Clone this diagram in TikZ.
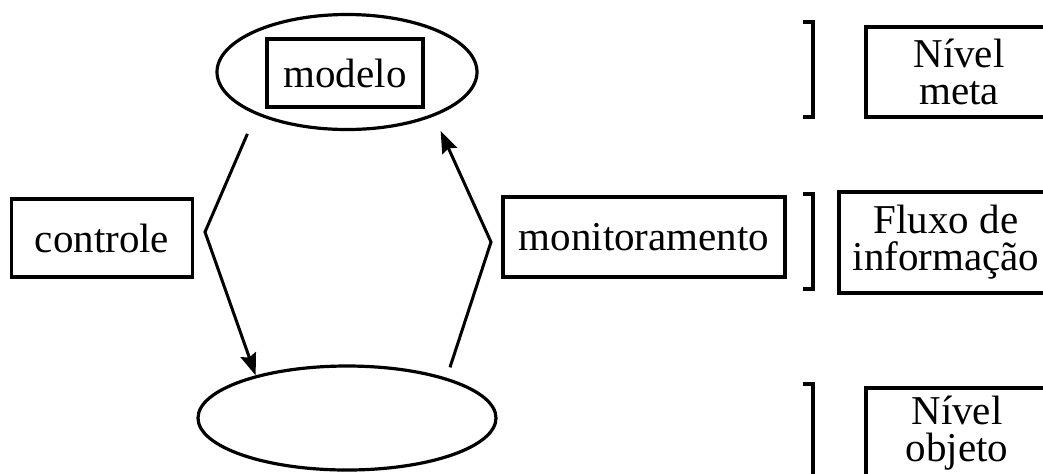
\documentclass[tikz,border=0pt]{standalone}
\usepackage{fontspec}
\setmainfont{Liberation Serif}
\usetikzlibrary{shapes.geometric,arrows.meta}

\tikzstyle{b1} = [draw, rectangle, line width=1.6pt, inner sep=0pt, align=center,
  font=\fontsize{20.5}{18.5}\selectfont]
\tikzstyle{e1} = [draw, ellipse, line width=1.6pt, inner sep=0pt]
\tikzstyle{a1} = [line width=1.5pt, -{Stealth[length=11pt,width=8pt,inset=1.5pt]}]

\begin{document}
\begin{tikzpicture}[x=0.5pt, y=-0.5pt]
    \useasboundingbox (0,0) rectangle (1043,473);
    \clip (0,0) rectangle (1043,473);

    % levels (ellipses)
    \node[e1, minimum width=130pt, minimum height=57.5pt] (meta) at (347,72) {};
    \node[b1, minimum width=78pt, minimum height=34pt] (modelo) at (345,73) {modelo};
    \node[e1, minimum width=149pt, minimum height=52pt] (objeto) at (347,418) {};

    % side labels
    \node[b1, minimum width=90.5pt, minimum height=39pt] (controle) at (102,238) {controle};
    \node[b1, minimum width=141pt, minimum height=40pt] (monit) at (644,237) {monitoramento};

    % corners of the connectors
    \coordinate (c1) at (205,232);
    \coordinate (c2) at (491,242);

    \draw[a1, shorten <=10.5pt, line join=miter] (meta.205) -- (c1) -- (objeto.155);
    \draw[a1, shorten <=5.5pt, shorten >=8pt, line join=miter] (objeto.22) -- (c2) -- (meta.333);

    % legend on the right
    \node[b1, minimum width=93pt, minimum height=45pt] (nmeta) at (959,72) {Nível\\meta};
    \node[b1, minimum width=107pt, minimum height=50.5pt] (fluxo) at (946,242.5) {Fluxo de\\informação};
    \node[b1, minimum width=91pt, minimum height=45pt] (nobj) at (957,433) {Nível\\objeto};

    % brackets
    \draw[line width=1.6pt] (803,22) -- (813,22) -- (813,117) -- (803,117);
    \draw[line width=1.6pt] (803,194) -- (813,194) -- (813,289) -- (803,289);
    \draw[line width=1.6pt] (803,384) -- (813,384) -- (813,490);
\end{tikzpicture}
\end{document}
